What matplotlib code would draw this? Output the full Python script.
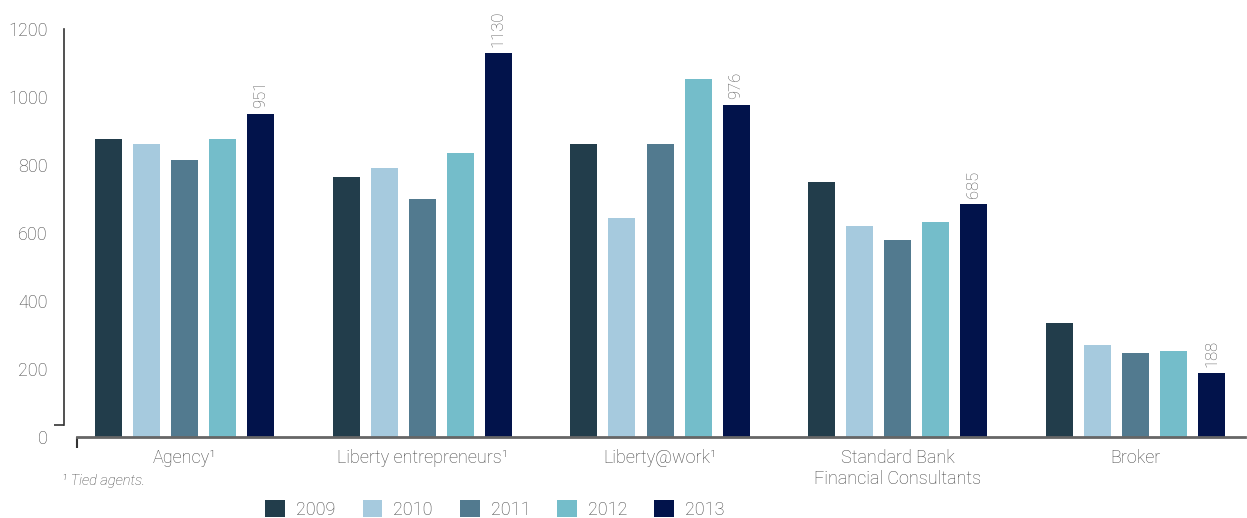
import numpy as np
import matplotlib
matplotlib.use('Agg')
import matplotlib.pyplot as plt

categories = ['Agency\u00b9', 'Liberty entrepreneurs\u00b9', 'Liberty@work\u00b9',
              'Standard Bank\nFinancial Consultants', 'Broker']
years = ['2009', '2010', '2011', '2012', '2013']
v2009 = [876, 765, 862, 750, 335]
v2010 = [862, 791, 644, 621, 271]
v2011 = [815, 700, 862, 579, 247]
v2012 = [876, 835, 1053, 632, 253]
v2013 = [951, 1130, 976, 685, 188]
series = [v2009, v2010, v2011, v2012, v2013]
colors = ['#223d4b', '#a6cade', '#527a8f', '#74bdca', '#02134b']

plt.rcParams['font.family'] = ['Roboto', 'DejaVu Sans']
plt.rcParams['font.weight'] = 'light'
txt = '#444444'

fig = plt.figure(figsize=(12.47, 5.18), dpi=100)
ax = fig.add_axes([0.0617, 0.1564, 0.9367, 0.7876])

x = np.arange(len(categories))
width = 0.1134
step = 0.16
for i, (vals, col, yr) in enumerate(zip(series, colors, years)):
    ax.bar(x + (i - 2) * step, vals, width, color=col, label=yr)

# value labels on 2013 bars
for xi, v in zip(x + 2 * step, v2013):
    ax.text(xi, v + 18, str(v), rotation=90, ha='center', va='bottom',
            fontsize=12, color='#555555', clip_on=False)

ax.set_xlim(-0.452, 4.46)
ax.set_ylim(0, 1200)
ax.set_yticks(np.arange(0, 1201, 200))
ax.set_xticks(x)
ax.set_xticklabels(categories)

ax.spines['top'].set_visible(False)
ax.spines['right'].set_visible(False)
ax.spines['left'].set_position(('outward', 9))
ax.spines['left'].set_bounds(35, 1200)
ax.spines['left'].set_color('#333333')
ax.spines['left'].set_linewidth(1.2)
ax.spines['bottom'].set_color('#666666')
ax.spines['bottom'].set_linewidth(2)

ax.tick_params(axis='y', which='major', length=0, pad=12, labelsize=13, labelcolor=txt)
ax.tick_params(axis='x', which='major', length=0, pad=9, labelsize=13, labelcolor=txt)
ax.set_yticks([35, 1200], minor=True)
ax.tick_params(axis='y', which='minor', length=7, width=1.2, color='#333333')
ax.set_xticks([-0.452], minor=True)
ax.tick_params(axis='x', which='minor', length=8, width=1.5, color='#333333')

fig.text(0.05, 0.064, '\u00b9 Tied agents.', fontsize=10.5, style='italic', color=txt)

fig.legend(loc='center', bbox_to_anchor=(0.397, 0.017), ncol=5, frameon=False,
           fontsize=13, handlelength=1.1, handleheight=1.1, columnspacing=1.5,
           handletextpad=0.6, labelcolor=txt)

fig.savefig('out.png', dpi=100)
